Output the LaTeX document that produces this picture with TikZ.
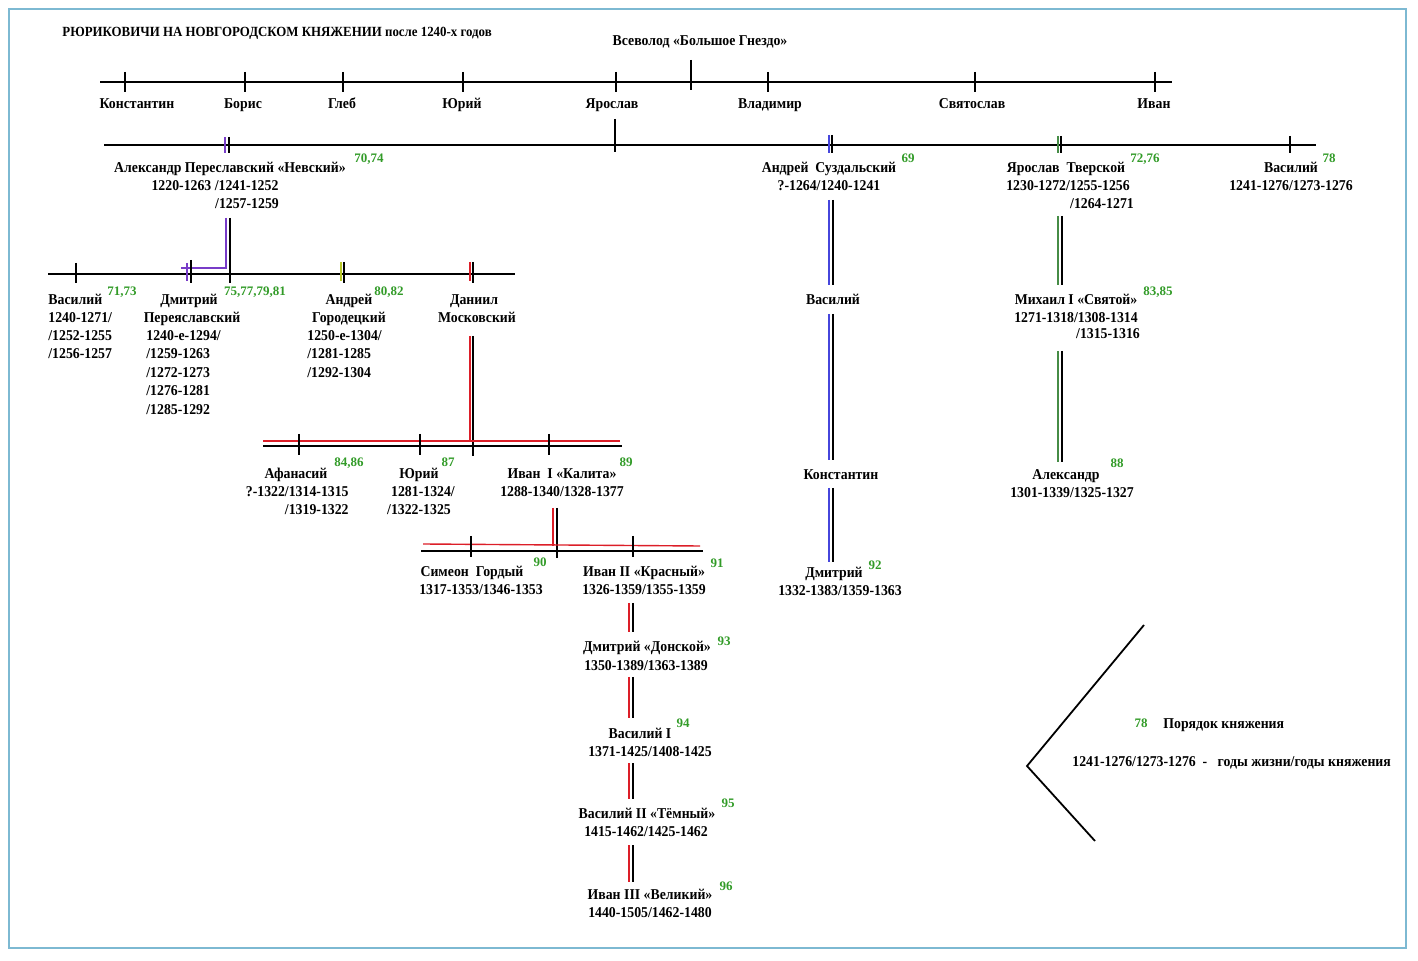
\documentclass[tikz,border=0pt]{standalone}
\usepackage{fontspec}
\setmainfont{Liberation Serif}[FakeStretch=0.92]
\newfontfamily\numfont{Liberation Serif}
\definecolor{ordgreen}{RGB}{50,155,40}
\definecolor{purp}{RGB}{120,60,200}
\definecolor{blueL}{RGB}{70,70,220}
\definecolor{greenL}{RGB}{70,140,70}
\definecolor{yel}{RGB}{185,200,40}
\definecolor{redL}{RGB}{220,30,40}
\definecolor{brdc}{RGB}{125,185,210}
\begin{document}
\begin{tikzpicture}[x=0.5pt,y=-0.5pt,
  nm/.style={font=\fontsize{7.5}{9}\selectfont\bfseries, inner sep=0pt, text height=5pt, text depth=0pt},
  num/.style={font=\numfont\fontsize{6.5}{8}\selectfont\bfseries, text=ordgreen, inner sep=0pt, text height=4.4pt, text depth=0pt},
  hl/.style={line width=0.9pt},
  tk/.style={line width=0.7pt},
  brd/.style={draw=brdc, line width=1pt}]
\useasboundingbox (0,0) rectangle (1418,961);
\draw[brd] (9,9) rectangle (1406,948);

% ---------- generation 0
\node[nm,anchor=west,font=\fontsize{7}{9}\selectfont\bfseries] (title) at (62,32) {РЮРИКОВИЧИ НА НОВГОРОДСКОМ КНЯЖЕНИИ после 1240-х годов};
\node[nm] (vsev) at (700,41) {Всеволод «Большое Гнездо»};
\coordinate (L1a) at (100,82); \coordinate (L1b) at (1172,82);
\draw[hl] (L1a) -- (L1b);
\draw[tk] (691,60) -- (691,90);
\foreach \x in {125,245,343,463,616,768,975,1155} \draw[tk] (\x,72) -- (\x,92);
\node[nm] (konst) at (137,104) {Константин};
\node[nm] (boris) at (243,104) {Борис};
\node[nm] (gleb) at (342,104) {Глеб};
\node[nm] (yuri) at (462,104) {Юрий};
\node[nm] (yar) at (612,104) {Ярослав};
\node[nm] (vlad) at (770,104) {Владимир};
\node[nm] (svyat) at (972,104) {Святослав};
\node[nm] (ivan) at (1154,104) {Иван};
\coordinate (yarD) at (615,152);
\draw[tk] (615,119) -- (yarD);

% ---------- generation 1
\draw[hl] (104,145) -- (1316,145);
\draw[tk,purp] (225,137) -- (225,153); \draw[tk] (229,137) -- (229,153);
\draw[tk,blueL] (829,135) -- (829,153); \draw[tk] (832,135) -- (832,153);
\draw[tk,greenL] (1058,136) -- (1058,153); \draw[tk] (1061,136) -- (1061,153);
\draw[tk] (1290,136) -- (1290,153);

\node[nm] (alex1) at (230,168) {Александр Переславский «Невский»};
\node[nm] (alex2) at (215,186) {1220-1263 /1241-1252};
\node[nm] (alex3) at (247,204) {/1257-1259};
\node[num] (n7074) at (369,158) {70,74};

\node[nm] (andS1) at (829,168) {Андрей\ \ Суздальский};
\node[nm] (andS2) at (829,186) {?-1264/1240-1241};
\node[num] (n69) at (908,158) {69};

\node[nm] (yarT1) at (1066,168) {Ярослав\ \ Тверской};
\node[nm] (yarT2) at (1068,186) {1230-1272/1255-1256};
\node[nm] (yarT3) at (1102,204) {/1264-1271};
\node[num] (n7276) at (1145,158) {72,76};

\node[nm] (vas1) at (1291,168) {Василий};
\node[nm] (vas2) at (1291,186) {1241-1276/1273-1276};
\node[num] (n78) at (1329,158) {78};

% ---------- Alexander's sons
\draw[tk,purp] (226,218) -- (226,268) -- (181,268);
\draw[tk] (230,218) -- (230,283);
\draw[hl] (48,274) -- (515,274);
\draw[tk] (76,263) -- (76,283);
\draw[tk,purp] (187,263) -- (187,281); \draw[tk] (191,260) -- (191,283);
\draw[tk,yel] (341,262) -- (341,281); \draw[tk] (344,262) -- (344,283);
\draw[tk,redL] (470,262) -- (470,281); \draw[tk] (473,262) -- (473,283);

\node[nm,anchor=west] (vasA1) at (48,300) {Василий};
\node[nm,anchor=west] (vasA2) at (48,318) {1240-1271/};
\node[nm,anchor=west] (vasA3) at (48,336) {/1252-1255};
\node[nm,anchor=west] (vasA4) at (48,354) {/1256-1257};
\node[num] (n7173) at (122,291) {71,73};

\node[nm] (dmP1) at (189,300) {Дмитрий};
\node[nm] (dmP2) at (192,318) {Переяславский};
\node[nm,anchor=west] (dmP3) at (146,336) {1240-е-1294/};
\node[nm,anchor=west] (dmP4) at (146,354) {/1259-1263};
\node[nm,anchor=west] (dmP5) at (146,373) {/1272-1273};
\node[nm,anchor=west] (dmP6) at (146,391) {/1276-1281};
\node[nm,anchor=west] (dmP7) at (146,410) {/1285-1292};
\node[num] (n7581) at (255,291) {75,77,79,81};

\node[nm] (andG1) at (349,300) {Андрей};
\node[nm] (andG2) at (349,318) {Городецкий};
\node[nm,anchor=west] (andG3) at (307,336) {1250-е-1304/};
\node[nm,anchor=west] (andG4) at (307,354) {/1281-1285};
\node[nm,anchor=west] (andG5) at (307,373) {/1292-1304};
\node[num] (n8082) at (389,291) {80,82};

\node[nm] (dan1) at (474,300) {Даниил};
\node[nm] (dan2) at (477,318) {Московский};

% ---------- Daniil's sons
\draw[tk,redL] (470,336) -- (470,441);
\draw[tk] (473,336) -- (473,456);
\draw[tk,redL] (263,441) -- (620,441);
\draw[hl] (263,446) -- (622,446);
\foreach \x in {299,420,549} \draw[tk] (\x,434) -- (\x,455);

\node[nm] (afan1) at (296,474) {Афанасий};
\node[nm,anchor=east] (afan2) at (349,492) {?-1322/1314-1315};
\node[nm,anchor=east] (afan3) at (349,510) {/1319-1322};
\node[num] (n8486) at (349,462) {84,86};

\node[nm] (yuD1) at (419,474) {Юрий};
\node[nm] (yuD2) at (423,492) {1281-1324/};
\node[nm] (yuD3) at (419,510) {/1322-1325};
\node[num] (n87) at (448,462) {87};

\node[nm] (ivK1) at (562,474) {Иван\ \ I «Калита»};
\node[nm] (ivK2) at (562,492) {1288-1340/1328-1377};
\node[num] (n89) at (626,462) {89};

% ---------- Ivan I's sons
\draw[tk,redL] (553,508) -- (553,546);
\draw[tk] (557,508) -- (557,558);
\draw[tk,redL] (423,544) -- (700,546);
\draw[hl] (421,551) -- (703,551);
\foreach \x in {471,633} \draw[tk] (\x,536) -- (\x,557);

\node[nm] (sim1) at (472,572) {Симеон\ \ Гордый};
\node[nm] (sim2) at (481,590) {1317-1353/1346-1353};
\node[num] (n90) at (540,562) {90};

\node[nm] (ivKr1) at (644,572) {Иван II «Красный»};
\node[nm] (ivKr2) at (644,590) {1326-1359/1355-1359};
\node[num] (n91) at (717,563) {91};

% ---------- Moscow line
\foreach \a/\b in {603/632,677/718,763/799,845/882} {
  \draw[tk,redL] (629,\a) -- (629,\b);
  \draw[tk] (633,\a) -- (633,\b);
}
\node[nm] (dd1) at (647,647) {Дмитрий «Донской»};
\node[nm] (dd2) at (646,665) {1350-1389/1363-1389};
\node[num] (n93) at (724,641) {93};

\node[nm] (v11) at (640,733) {Василий I};
\node[nm] (v12) at (650,751) {1371-1425/1408-1425};
\node[num] (n94) at (683,723) {94};

\node[nm] (v21) at (647,813) {Василий II «Тёмный»};
\node[nm] (v22) at (646,831) {1415-1462/1425-1462};
\node[num] (n95) at (728,803) {95};

\node[nm] (i31) at (650,894) {Иван III «Великий»};
\node[nm] (i32) at (650,912) {1440-1505/1462-1480};
\node[num] (n96) at (726,886) {96};

% ---------- Suzdal line
\foreach \a/\b in {200/285,314/460,488/562} {
  \draw[tk,blueL] (829,\a) -- (829,\b);
  \draw[tk] (833,\a) -- (833,\b);
}
\node[nm] (vS) at (833,300) {Василий};
\node[nm] (kS) at (841,475) {Константин};
\node[nm] (dS1) at (834,573) {Дмитрий};
\node[nm] (dS2) at (840,591) {1332-1383/1359-1363};
\node[num] (n92) at (875,565) {92};

% ---------- Tver line
\foreach \a/\b in {216/285,351/462} {
  \draw[tk,greenL] (1058,\a) -- (1058,\b);
  \draw[tk] (1062,\a) -- (1062,\b);
}
\node[nm] (mT1) at (1076,300) {Михаил I «Святой»};
\node[nm] (mT2) at (1076,318) {1271-1318/1308-1314};
\node[nm] (mT3) at (1108,334) {/1315-1316};
\node[num] (n8385) at (1158,291) {83,85};
\node[nm] (aT1) at (1066,475) {Александр};
\node[nm] (aT2) at (1072,493) {1301-1339/1325-1327};
\node[num] (n88) at (1117,463) {88};

% ---------- legend
\coordinate (chA) at (1144,625);
\coordinate (chB) at (1027,766);
\coordinate (chC) at (1095,841);
\draw[hl] (chA) -- (chB) -- (chC);
\node[num] (lg78) at (1141,723) {78};
\node[nm,anchor=west] (lg1) at (1163,723) {Порядок княжения};
\node[nm,anchor=west] (lg2) at (1072,761) {1241-1276/1273-1276\ \ -\ \ \ годы жизни/годы княжения};
\end{tikzpicture}
\end{document}
